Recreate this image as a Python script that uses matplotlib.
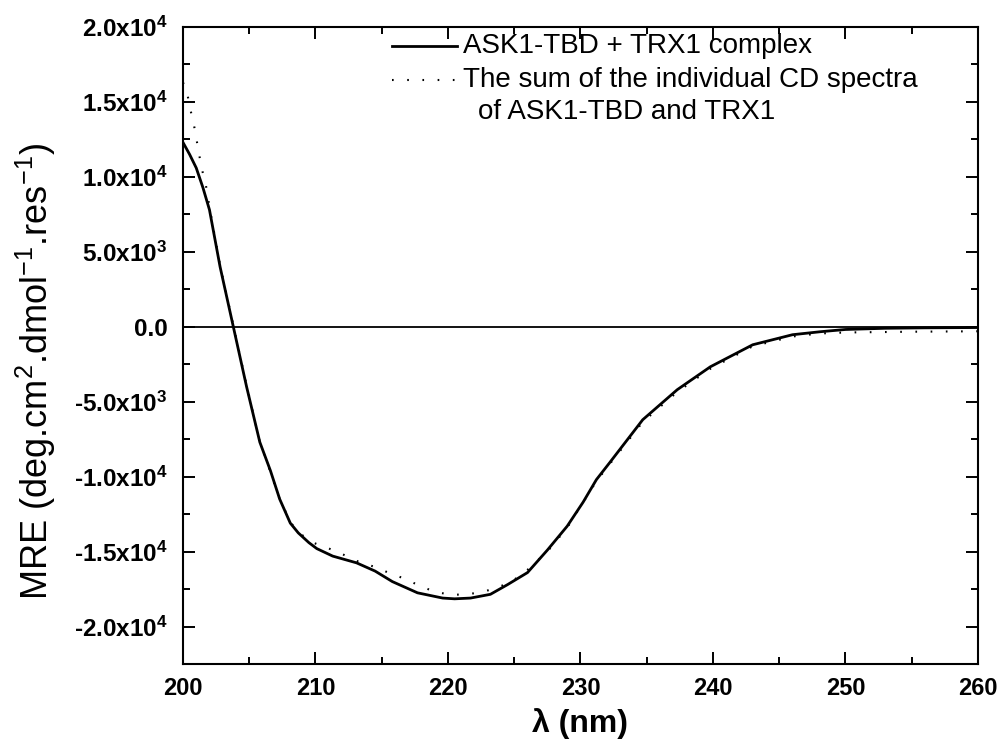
import matplotlib
matplotlib.use("Agg")
import matplotlib.pyplot as plt
from matplotlib.ticker import MultipleLocator, FixedLocator, FuncFormatter

plt.rcParams['font.family'] = ['Liberation Sans', 'DejaVu Sans']
plt.rcParams['mathtext.fontset'] = 'custom'
plt.rcParams['mathtext.rm'] = 'Liberation Sans'
plt.rcParams['mathtext.it'] = 'Liberation Sans:italic'
plt.rcParams['mathtext.bf'] = 'Liberation Sans:bold'

# ASK1-TBD + TRX1 complex (solid)
wl_complex = [200, 200.5, 201, 201.5, 202, 202.8, 203.8, 204.8, 205.8, 206.6, 207.3,
              208.1, 208.7, 209.5, 210.1, 211.3, 213.1, 214.5, 215.8, 217.7, 219.6,
              220.5, 221.7, 223.2, 224.5, 226.0, 227.5, 229.0, 230.2, 231.2, 232.2,
              234.7, 237.3, 239.8, 243.0, 246.0, 248.1, 250, 253, 256, 260]
mre_complex = [12300, 11500, 10600, 9300, 7800, 4000, 0, -4000, -7700, -9600, -11500,
               -13100, -13750, -14400, -14800, -15300, -15750, -16300, -17000, -17750, -18100,
               -18150, -18100, -17850, -17200, -16400, -14900, -13300, -11700, -10200, -9070,
               -6200, -4200, -2670, -1200, -530, -330, -180, -100, -70, -50]

# sum of the individual spectra (dotted)
wl_sum = [200, 200.3, 200.5, 200.8, 201.0, 201.2, 201.4, 201.7, 202.0, 202.8, 203.8,
          204.8, 205.8, 206.6, 207.3, 208.1, 208.6, 209.8, 210.9, 212.1, 213.2, 214.4,
          215.5, 216.7, 217.8, 218.9, 220.1, 221.2, 222.4, 223.6, 224.8, 225.9, 227.5,
          229.0, 231.2, 234.7, 237.3, 239.8, 243.0, 246.0, 248.0, 250, 255, 260]
mre_sum = [16300, 15700, 14700, 13600, 12600, 11600, 10600, 9600, 8000, 4100, 100,
           -3900, -7700, -9700, -11500, -13000, -13650, -14400, -14750, -15200, -15650, -16000,
           -16400, -16800, -17250, -17650, -17870, -17870, -17730, -17450, -17000, -16300, -15000,
           -13400, -10300, -6350, -4350, -2800, -1300, -650, -450, -380, -330, -300]

labels = ['ASK1-TBD + TRX1 complex',
          'The sum of the individual CD spectra',
          'of ASK1-TBD and TRX1']

dotted = (0, (0.8, 6.5))

fig = plt.figure(figsize=(10.01, 7.44), dpi=100)
ax = fig.add_axes([0.1828, 0.1075, 0.7942, 0.8562])

ax.axhline(0, color='black', lw=1.3, zorder=1)
ax.plot(wl_complex, mre_complex, color='black', lw=2.0, zorder=3)
ax.plot(wl_sum, mre_sum, color='black', lw=1.5, linestyle=dotted, zorder=2)

ax.set_xlim(200, 260)
ax.set_ylim(-22500, 20000)
ax.xaxis.set_major_locator(MultipleLocator(10))
ax.xaxis.set_minor_locator(MultipleLocator(5))
ax.yaxis.set_major_locator(FixedLocator([-20000, -15000, -10000, -5000, 0, 5000, 10000, 15000, 20000]))
ax.yaxis.set_minor_locator(MultipleLocator(2500))

def ylab(v, pos):
    if v == 0:
        return '0.0'
    e = 4 if abs(v) >= 10000 else 3
    return '%.1fx10' % (v / 10 ** e) + r'$^{\mathbf{%d}}$' % e

ax.yaxis.set_major_formatter(FuncFormatter(ylab))

for s in ax.spines.values():
    s.set_linewidth(1.5)
ax.tick_params(which='both', direction='in', top=True, right=True, width=1.4)
ax.tick_params(which='major', length=8.5)
ax.tick_params(which='minor', length=5)
ax.tick_params(axis='x', labelsize=17, pad=9)
ax.tick_params(axis='y', labelsize=17.5, pad=11)
for t in ax.get_xticklabels() + ax.get_yticklabels():
    t.set_fontweight('bold')

ax.set_xlabel(r'λ (nm)', fontsize=23, fontweight='bold', labelpad=6)
ax.set_ylabel(r'MRE (deg.cm$^2$.dmol$^{-1}$.res$^{-1}$)', fontsize=26)
ax.yaxis.set_label_coords(-0.157, 0.46)

# legend drawn by hand so the dotted key sits on its first text line
rows = [0.970, 0.917, 0.866]
ax.plot([0.263, 0.345], [rows[0], rows[0]], transform=ax.transAxes, color='black', lw=2.0, clip_on=False)
ax.plot([0.263, 0.345], [rows[1], rows[1]], transform=ax.transAxes, color='black', lw=1.5,
        linestyle=dotted, clip_on=False)
ax.text(0.352, rows[0], labels[0], transform=ax.transAxes, fontsize=20, va='center')
ax.text(0.352, rows[1], labels[1], transform=ax.transAxes, fontsize=20, va='center')
ax.text(0.371, rows[2], labels[2], transform=ax.transAxes, fontsize=20, va='center')

fig.savefig('out.png', dpi=100)
